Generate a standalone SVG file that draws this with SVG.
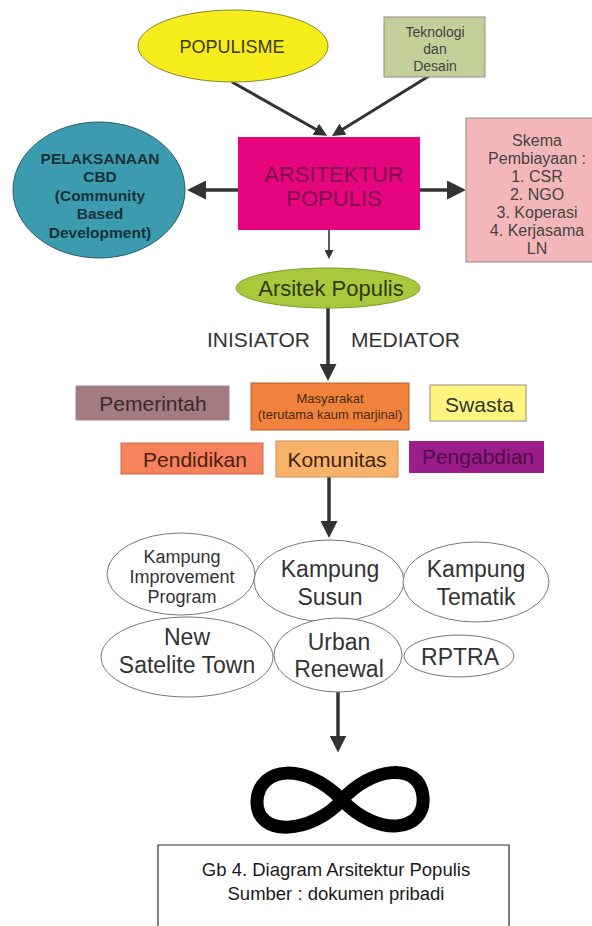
<svg xmlns="http://www.w3.org/2000/svg" width="592" height="926" viewBox="0 0 592 926">
<style>
text{font-family:"Liberation Sans",Arial,sans-serif;text-anchor:middle}
.ln{stroke:#333;fill:none}
.el{fill:#fff;stroke:#777;stroke-width:1}
.bx{stroke:#9a8a8a;stroke-width:1}
.big{font-size:23px;fill:#333}
</style>
<defs>
<marker id="ahL" viewBox="0 0 10 10" refX="5" refY="5" markerUnits="userSpaceOnUse" markerWidth="19" markerHeight="19" orient="auto"><path d="M0,0 L10,5 L0,10 z" fill="#333"/></marker>
<marker id="ahM" viewBox="0 0 10 10" refX="5" refY="5" markerUnits="userSpaceOnUse" markerWidth="17" markerHeight="17" orient="auto"><path d="M0,0 L10,5 L0,10 z" fill="#333"/></marker>
<marker id="ahS" viewBox="0 0 10 10" refX="5" refY="5" markerUnits="userSpaceOnUse" markerWidth="13" markerHeight="13" orient="auto"><path d="M0,0 L10,5 L0,10 z" fill="#333"/></marker>
<marker id="ahT" viewBox="0 0 10 10" refX="5" refY="5" markerUnits="userSpaceOnUse" markerWidth="9" markerHeight="9" orient="auto"><path d="M0,0 L10,5 L0,10 z" fill="#333"/></marker>
</defs>
<rect width="592" height="926" fill="#fff"/>

<g id="connectors">
<line class="ln" x1="232" y1="82" x2="321.5" y2="132.5" stroke-width="3" marker-end="url(#ahS)"/>
<line class="ln" x1="429" y1="76" x2="337.5" y2="132.5" stroke-width="3" marker-end="url(#ahS)"/>
<line class="ln" x1="238" y1="190" x2="196.5" y2="190" stroke-width="3.5" marker-end="url(#ahL)"/>
<line class="ln" x1="420" y1="190" x2="456.5" y2="190" stroke-width="3.5" marker-end="url(#ahL)"/>
<line class="ln" x1="329" y1="230" x2="329" y2="254.5" stroke-width="1.6" marker-end="url(#ahT)"/>
<line class="ln" x1="328" y1="307" x2="328" y2="372.5" stroke-width="3.5" marker-end="url(#ahM)"/>
<line class="ln" x1="329" y1="477" x2="329" y2="529.5" stroke-width="3.5" marker-end="url(#ahM)"/>
<line class="ln" x1="338" y1="692" x2="338" y2="744" stroke-width="3.5" marker-end="url(#ahM)"/>
</g>

<g id="populisme">
<ellipse cx="233" cy="46" rx="95" ry="36" fill="#f7ec1c" stroke="#8a8430" stroke-width="1"/>
<text x="232" y="52.5" font-size="18" fill="#3a3a1a">POPULISME</text>
</g>

<g id="teknologi">
<rect x="384" y="17" width="101" height="60" fill="#c3cf98" class="bx"/>
<text x="435" y="37" font-size="14" fill="#444">Teknologi</text>
<text x="435" y="54" font-size="14" fill="#444">dan</text>
<text x="435" y="70.5" font-size="14" fill="#444">Desain</text>
</g>

<g id="arsitektur">
<rect x="238" y="137" width="182" height="93" fill="#e6057f"/>
<text x="334" y="182" font-size="22" fill="#7e0d4c">ARSITEKTUR</text>
<text x="334" y="206" font-size="22" fill="#7e0d4c">POPULIS</text>
</g>

<g id="cbd">
<ellipse cx="99" cy="190" rx="86" ry="68" fill="#3d9bb0" stroke="#2a5a66" stroke-width="1"/>
<g font-size="15.5" font-weight="bold" fill="#16323a">
<text x="100" y="163.5">PELAKSANAAN</text>
<text x="100" y="182">CBD</text>
<text x="100" y="200.5">(Community</text>
<text x="100" y="219">Based</text>
<text x="100" y="237.5">Development)</text>
</g>
</g>

<g id="skema">
<rect x="466" y="118" width="140" height="144" fill="#f4b7b9" class="bx"/>
<g font-size="16" fill="#444">
<text x="537" y="146">Skema</text>
<text x="537" y="164">Pembiayaan :</text>
<text x="537" y="182">1. CSR</text>
<text x="537" y="200">2. NGO</text>
<text x="537" y="218">3. Koperasi</text>
<text x="537" y="236">4. Kerjasama</text>
<text x="537" y="254">LN</text>
</g>
</g>

<g id="arsitek-populis">
<ellipse cx="328" cy="288" rx="92" ry="20" fill="#a8c93c" stroke="#7a9a2a" stroke-width="1"/>
<text x="331" y="295.5" font-size="22" fill="#2e3a14">Arsitek Populis</text>
</g>

<g id="labels" font-size="21" fill="#333">
<text x="258.5" y="347">INISIATOR</text>
<text x="405.5" y="347">MEDIATOR</text>
</g>

<g id="pemerintah">
<rect x="76" y="386" width="153" height="34" fill="#a47b80" class="bx"/>
<text x="153" y="410.5" font-size="21" fill="#3a2a2a">Pemerintah</text>
</g>

<g id="masyarakat">
<rect x="251" y="383" width="158" height="47" fill="#f0823e" stroke="#b0602a" stroke-width="1"/>
<text x="330" y="403" font-size="13" fill="#4a2a10">Masyarakat</text>
<text x="330" y="419" font-size="13" fill="#4a2a10">(terutama kaum marjinal)</text>
</g>

<g id="swasta">
<rect x="430" y="385" width="96" height="36" fill="#fdf57e" class="bx"/>
<text x="479.5" y="412" font-size="21" fill="#333">Swasta</text>
</g>

<g id="pendidikan">
<rect x="121" y="443" width="142" height="31" fill="#f5825c" stroke="#c86a4a" stroke-width="1"/>
<text x="195" y="466.5" font-size="21" fill="#4a2010">Pendidikan</text>
</g>

<g id="komunitas">
<rect x="276" y="441" width="122" height="36" fill="#f9b26c" stroke="#c8905a" stroke-width="1"/>
<text x="337" y="466.5" font-size="21" fill="#3a2510">Komunitas</text>
</g>

<g id="pengabdian">
<rect x="409" y="441" width="135" height="32" fill="#9c1c8a"/>
<text x="478" y="463.5" font-size="21" fill="#4a0f48">Pengabdian</text>
</g>

<g id="kip">
<ellipse class="el" cx="181" cy="574" rx="74" ry="41"/>
<g font-size="18" fill="#333">
<text x="182" y="563">Kampung</text>
<text x="182" y="583">Improvement</text>
<text x="182" y="603">Program</text>
</g>
</g>

<g id="kampung-susun">
<ellipse class="el" cx="329" cy="581" rx="75" ry="41"/>
<text class="big" x="330" y="577">Kampung</text>
<text class="big" x="330" y="605">Susun</text>
</g>

<g id="kampung-tematik">
<ellipse class="el" cx="476" cy="582" rx="73" ry="40"/>
<text class="big" x="476" y="577">Kampung</text>
<text class="big" x="476" y="605">Tematik</text>
</g>

<g id="new-satelite-town">
<ellipse class="el" cx="187" cy="657" rx="86" ry="40"/>
<text class="big" x="187" y="645">New</text>
<text class="big" x="187" y="673">Satelite Town</text>
</g>

<g id="urban-renewal">
<ellipse class="el" cx="338" cy="655" rx="64" ry="37"/>
<text class="big" x="339" y="650">Urban</text>
<text class="big" x="339" y="677">Renewal</text>
</g>

<g id="rptra">
<ellipse class="el" cx="459" cy="656" rx="55" ry="21"/>
<text class="big" x="460" y="665">RPTRA</text>
</g>

<g id="infinity">
<path d="M342,800 C370,768 420,760 423,797 C426,832 378,838 342,800 C306,762 259,766 257,801 C256,838 312,834 342,800 Z" fill="none" stroke="#000" stroke-width="13"/>
</g>

<g id="caption">
<path d="M158,930 L158,845 L509,845 L509,930" fill="none" stroke="#333" stroke-width="1.2"/>
<text x="336" y="876" font-size="18.5" fill="#1a1a1a">Gb 4. Diagram Arsitektur Populis</text>
<text x="336" y="900" font-size="18.5" fill="#1a1a1a">Sumber : dokumen pribadi</text>
</g>
</svg>
